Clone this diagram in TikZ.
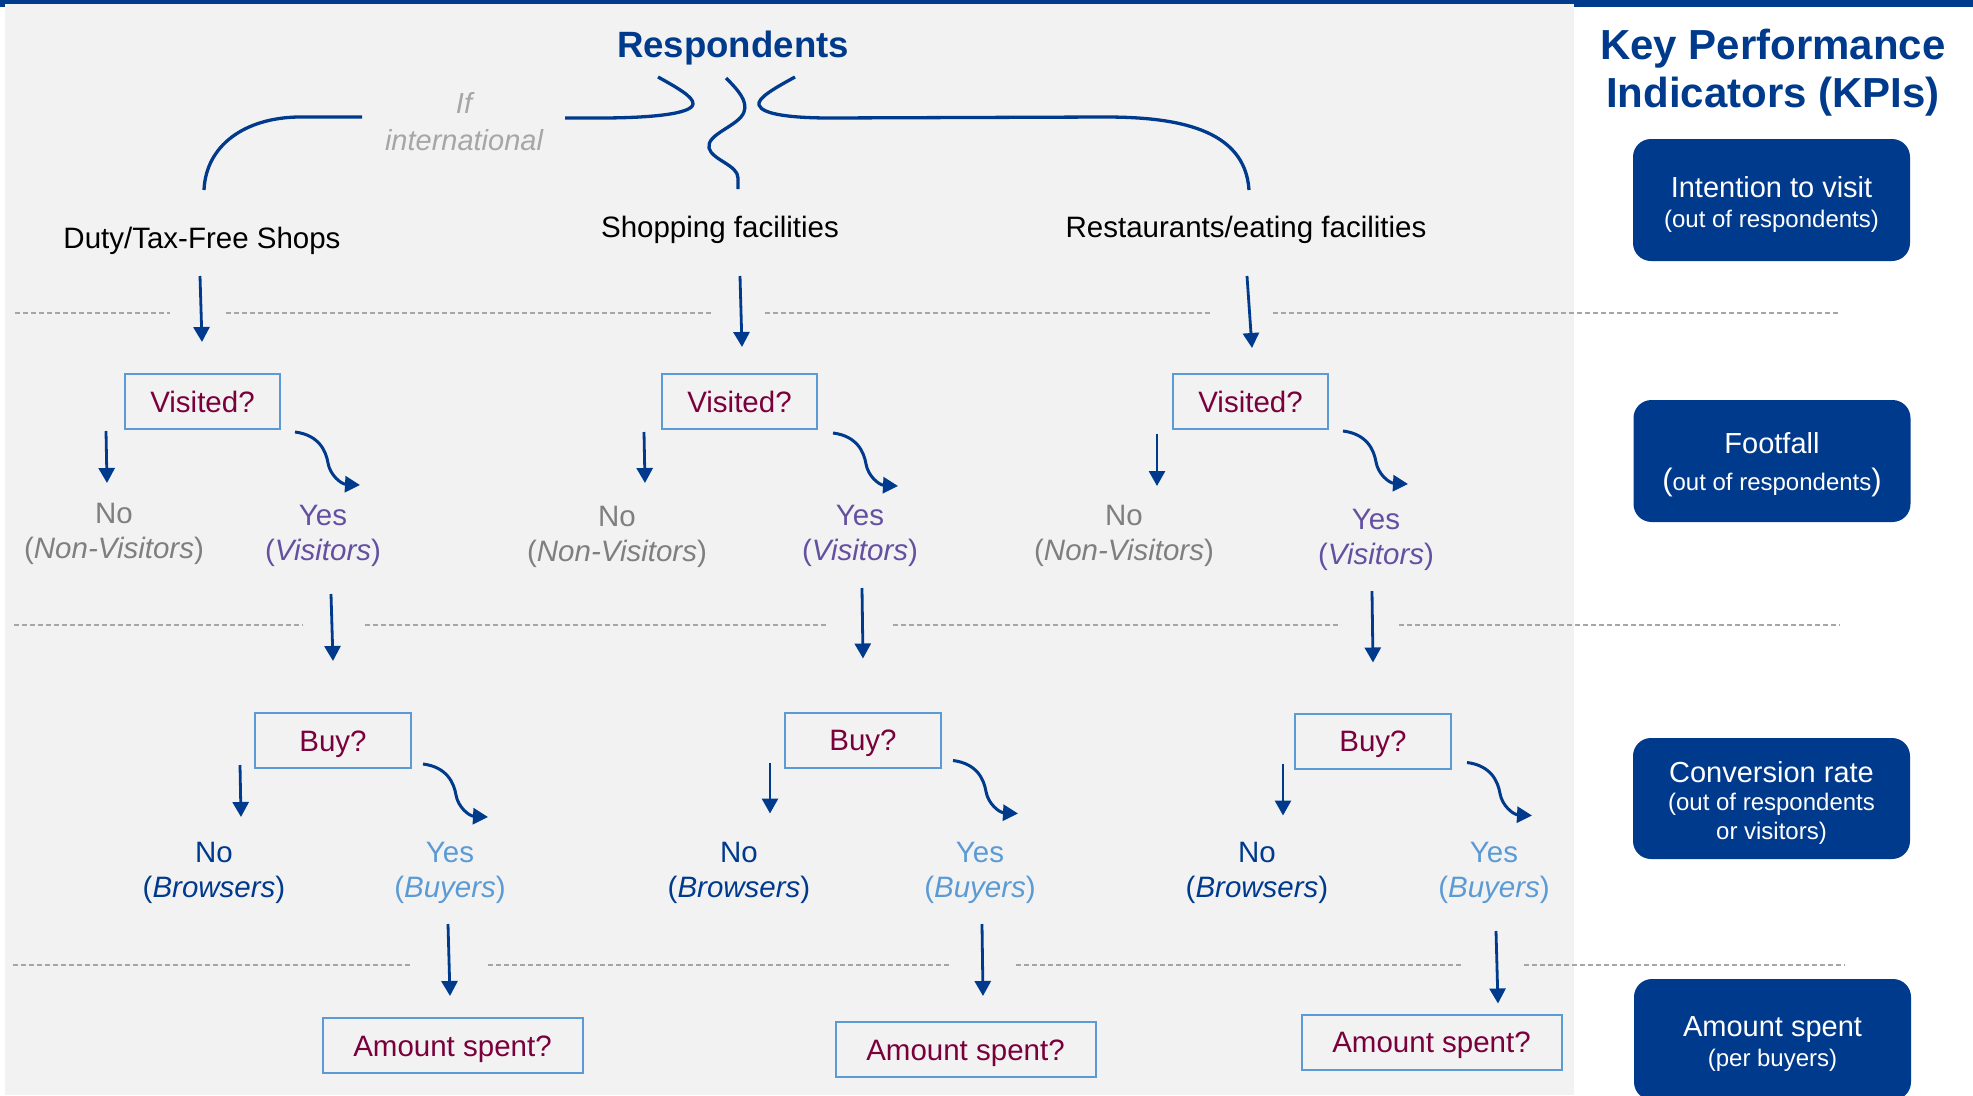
\documentclass[tikz,border=0pt]{standalone}
\usepackage{fontspec}
\setmainfont{Liberation Sans}
\usetikzlibrary{arrows.meta,calc}

\definecolor{kblue}{RGB}{0,58,140}
\definecolor{boxline}{RGB}{91,155,213}
\definecolor{maroon}{RGB}{122,0,60}
\definecolor{ngray}{RGB}{127,127,127}
\definecolor{lgray}{RGB}{166,166,166}
\definecolor{dgray}{RGB}{166,166,166}
\definecolor{vpurple}{RGB}{100,80,160}
\definecolor{bgpanel}{RGB}{242,242,242}

% curved "yes" branch, drawn from a start point
\newcommand{\yescurve}[1]{%
  \coordinate (ys) at #1;
  \draw[arrc] (ys) .. controls ($(ys)+(24,3)$) and ($(ys)+(31,19)$) .. ($(ys)+(33,31)$)
    .. controls ($(ys)+(35,43)$) and ($(ys)+(46,52)$) .. ($(ys)+(65,53)$);}
% strut that lowers the text block inside a KPI box
\newcommand{\kpistrut}{\rule{0pt}{29pt}}
\newcommand{\kpimain}{\fontsize{29}{30}\selectfont}

\begin{document}
\begin{tikzpicture}[x=1pt,y=-1pt,
  txt/.style={inner sep=0pt, anchor=base, align=center, font=\fontsize{29.5}{35}\selectfont},
  qbox/.style={draw=boxline, line width=2pt, inner sep=0pt, text=maroon,
    font=\fontsize{29.5}{35}\selectfont, text height=21pt, text depth=0pt, minimum height=55pt},
  kpi/.style={fill=kblue, rounded corners=18pt, text=white, align=center, inner sep=0pt,
    minimum width=277pt, font=\fontsize{24}{30}\selectfont},
  arr/.style={draw=kblue, line width=2.8pt, -{Triangle[length=15pt,width=16pt]}},
  arrc/.style={arr, line width=3pt},
  brace/.style={draw=kblue, line width=3.3pt},
  dsh/.style={draw=dgray, line width=1.5pt, dash pattern=on 5pt off 3pt}]

\useasboundingbox (0,0) rectangle (1973,1095);
\clip (0,0) rectangle (1973,1095);

% panels and top rule
\fill[bgpanel] (5,4) rectangle (1574,1095);
\fill[kblue] (0,0) rectangle (1973,4);
\fill[kblue] (1574,0) rectangle (1973,7);
\fill[kblue] (0,0) rectangle (5,7);

% stage separators
\foreach \a/\b in {15/170, 226/711, 765/1211, 1273/1840}
  \draw[dsh] (\a,313) -- (\b,313);
\foreach \a/\b in {14/303, 365/826, 893/1341, 1399/1840}
  \draw[dsh] (\a,625) -- (\b,625);
\foreach \a/\b in {13/411, 488/950, 1016/1463, 1524/1845}
  \draw[dsh] (\a,965) -- (\b,965);

% header (multi-line nodes sit on their last baseline)
\node[txt, text=kblue, font=\bfseries\fontsize{36.6}{40}\selectfont] (resp) at (733,57) {Respondents};
\node[txt, text=lgray, font=\itshape\fontsize{29}{37}\selectfont] (intl) at (464,150) {If\\international};

% categories
\node[txt] (c1) at (202,248) {Duty/Tax-Free Shops};
\node[txt] (c2) at (720,237) {Shopping facilities};
\node[txt] (c3) at (1246,237) {Restaurants/eating facilities};

% branches from respondents
\draw[brace] (658,77) .. controls (676,87) and (694,97) .. (693,104)
  .. controls (692,114) and (650,118) .. (600,118) -- (565,118);
\draw[brace] (362,117) -- (298,117) .. controls (245,118) and (206,145) .. ($(c1.base)+(2,-58)$);
\draw[brace] (726,78) .. controls (738,90) and (748,101) .. (744,112)
  .. controls (739,126) and (706,134) .. (709,148)
  .. controls (712,160) and (738,165) .. (738,178) -- ($(c2.base)+(18,-48)$);
\draw[brace] (795,77) .. controls (775,88) and (757,98) .. (759,105)
  .. controls (762,115) and (795,118) .. (830,118) -- (1105,117)
  .. controls (1175,117) and (1245,128) .. ($(c3.base)+(3,-47)$);

% visit questions
\node[qbox, minimum width=155pt] (v1) at (202.5,401.5) {Visited?};
\node[qbox, minimum width=155pt] (v2) at (739.5,401.5) {Visited?};
\node[qbox, minimum width=155pt] (v3) at (1250.5,401.5) {Visited?};

\draw[arr] ($(c1.base)+(-2,28)$) -- ($(v1.north)+(-0.5,-31)$);
\draw[arr] ($(c2.base)+(20,39)$) -- ($(v2.north)+(2.5,-26)$);
\draw[arr] ($(c3.base)+(1,39)$) -- ($(v3.north)+(1.5,-25)$);

% visit answers
\node[txt, text=ngray] (n1) at (114,558) {No\\(\textit{Non-Visitors})};
\node[txt, text=vpurple] (y1) at (323,560) {Yes\\(\textit{Visitors})};
\node[txt, text=ngray] (n2) at (617,561) {No\\(\textit{Non-Visitors})};
\node[txt, text=vpurple] (y2) at (860,560) {Yes\\(\textit{Visitors})};
\node[txt, text=ngray] (n3) at (1124,560) {No\\(\textit{Non-Visitors})};
\node[txt, text=vpurple] (y3) at (1376,564) {Yes\\(\textit{Visitors})};

\draw[arr] ($(v1.south west)+(-18,1)$) -- ($(v1.south west)+(-17,53)$);
\draw[arr] ($(v2.south west)+(-17,2)$) -- ($(v2.south west)+(-16,53)$);
\draw[arr] ($(v3.south west)+(-15,4)$) -- ($(v3.south west)+(-15,56)$);
\yescurve{($(v1.south east)+(14,2)$)}
\yescurve{($(v2.south east)+(15,3)$)}
\yescurve{($(v3.south east)+(14,1)$)}

% purchase questions
\node[qbox, minimum width=156pt] (b1) at (333,740.5) {Buy?};
\node[qbox, minimum width=156pt] (b2) at (863,740) {Buy?};
\node[qbox, minimum width=156pt] (b3) at (1373,741) {Buy?};

\draw[arr] ($(y1.base)+(8,34)$) -- ($(b1.north)+(0,-51)$);
\draw[arr] ($(y2.base)+(2,28)$) -- ($(b2.north)+(0,-53)$);
\draw[arr] ($(y3.base)+(-4,27)$) -- ($(b3.north)+(0,-50)$);

% purchase answers
\node[txt, text=kblue] (nb1) at (214,897) {No\\(\textit{Browsers})};
\node[txt, text=boxline] (yb1) at (450,897) {Yes\\(\textit{Buyers})};
\node[txt, text=kblue] (nb2) at (739,897) {No\\(\textit{Browsers})};
\node[txt, text=boxline] (yb2) at (980,897) {Yes\\(\textit{Buyers})};
\node[txt, text=kblue] (nb3) at (1257,897) {No\\(\textit{Browsers})};
\node[txt, text=boxline] (yb3) at (1494,897) {Yes\\(\textit{Buyers})};

\draw[arr] ($(b1.south west)+(-14,-4)$) -- ($(b1.south west)+(-13,48)$);
\draw[arr] ($(b2.south west)+(-14,-6)$) -- ($(b2.south west)+(-14,45)$);
\draw[arr] ($(b3.south west)+(-11,-6)$) -- ($(b3.south west)+(-11,46)$);
\yescurve{($(b1.south east)+(11,-5)$)}
\yescurve{($(b2.south east)+(11,-8)$)}
\yescurve{($(b3.south east)+(15,-7)$)}

% spending questions
\node[qbox, minimum width=260pt] (a1) at (452.5,1045.5) {Amount spent?};
\node[qbox, minimum width=260pt] (a2) at (965.5,1049.5) {Amount spent?};
\node[qbox, minimum width=260pt] (a3) at (1431.5,1042) {Amount spent?};

\draw[arr] ($(yb1.base)+(-2,27)$) -- ($(a1.north)+(-2.5,-21)$);
\draw[arr] ($(yb2.base)+(2,27)$) -- ($(a2.north)+(17.5,-25)$);
\draw[arr] ($(yb3.base)+(2,34)$) -- ($(a3.north)+(66.5,-10)$);

% KPI column
\node[txt, text=kblue, font=\bfseries\fontsize{42}{48}\selectfont] (kpit) at (1773,107) {Key Performance\\Indicators (KPIs)};
\node[kpi, minimum height=122pt] (k1) at (1771.5,200)
  {\kpistrut{\kpimain Intention to visit}\\(out of respondents)};
\node[kpi, minimum height=122pt] (k2) at (1772,461)
  {\kpistrut{\kpimain Footfall}\\[7pt]{\fontsize{31}{30}\selectfont(}out of respondents{\fontsize{31}{30}\selectfont)}};
\node[kpi, minimum height=121pt, font=\fontsize{24}{28.5}\selectfont] (k3) at (1771.5,798.5)
  {\kpistrut{\kpimain Conversion rate}\\(out of respondents\\or visitors)};
\node[kpi, minimum height=121pt] (k4) at (1772.5,1039.5)
  {\kpistrut{\kpimain Amount spent}\\(per buyers)};

\end{tikzpicture}
\end{document}
